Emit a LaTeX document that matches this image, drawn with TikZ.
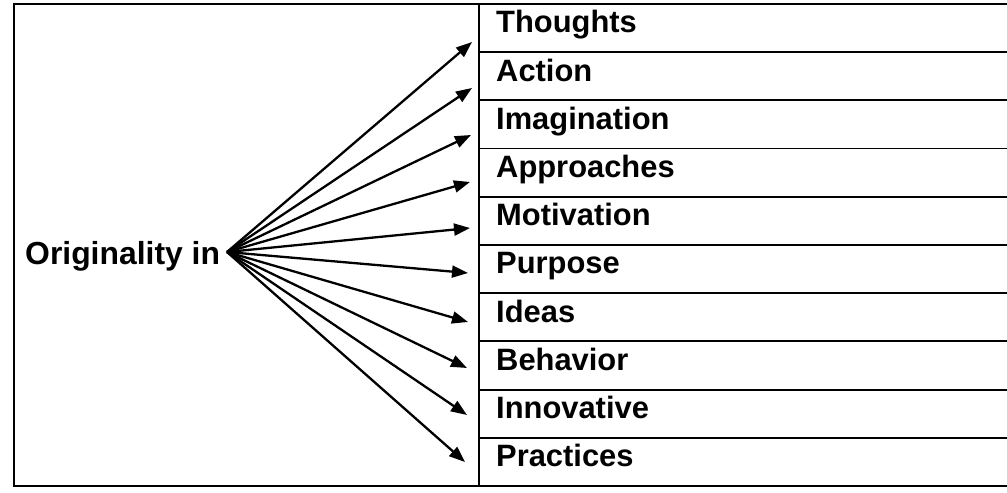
\documentclass[tikz,border=0pt]{standalone}
\usepackage{fontspec}
\setmainfont{Liberation Sans}
\usetikzlibrary{arrows.meta}
\begin{document}
\begin{tikzpicture}[x=1bp,y=-1bp,
  frame/.style={line width=2.2bp},
  gridline/.style={line width=1.8bp},
  arr/.style={line width=2.3bp,-{Triangle[length=16bp,width=12bp]}},
  lbl/.style={font=\fontsize{31}{34}\selectfont\bfseries, inner sep=0pt, anchor=base west}]
\useasboundingbox (0,0) rectangle (1007,493);
% outer frame and table
\draw[frame] (1007,4) -- (14,4) -- (14,486) -- (1007,486);
\draw[gridline] (479,4) -- (479,486);
\foreach \i in {1,...,9} \draw[gridline] (479,{4+48.2*\i}) -- (1007,{4+48.2*\i});
% row labels
\foreach \t [count=\i] in {Thoughts,Action,Imagination,Approaches,Motivation,Purpose,Ideas,Behavior,Innovative,Practices}
  \node[lbl] (t\i) at (496,{4+48.2*(\i-1)+29}) {\t};
% left label
\node[lbl, font=\fontsize{32}{35}\selectfont\bfseries] (orig) at (25,265) {Originality in};
\coordinate (o) at (227,252);
\foreach \x/\y [count=\i] in {472/42,472/88,471/135,470/182,470/228,468/273,468/322,467/368,467/415,465/462} {
  \coordinate (h\i) at (\x,\y);
  \draw[arr] (o) -- (h\i);
}
\end{tikzpicture}
\end{document}
